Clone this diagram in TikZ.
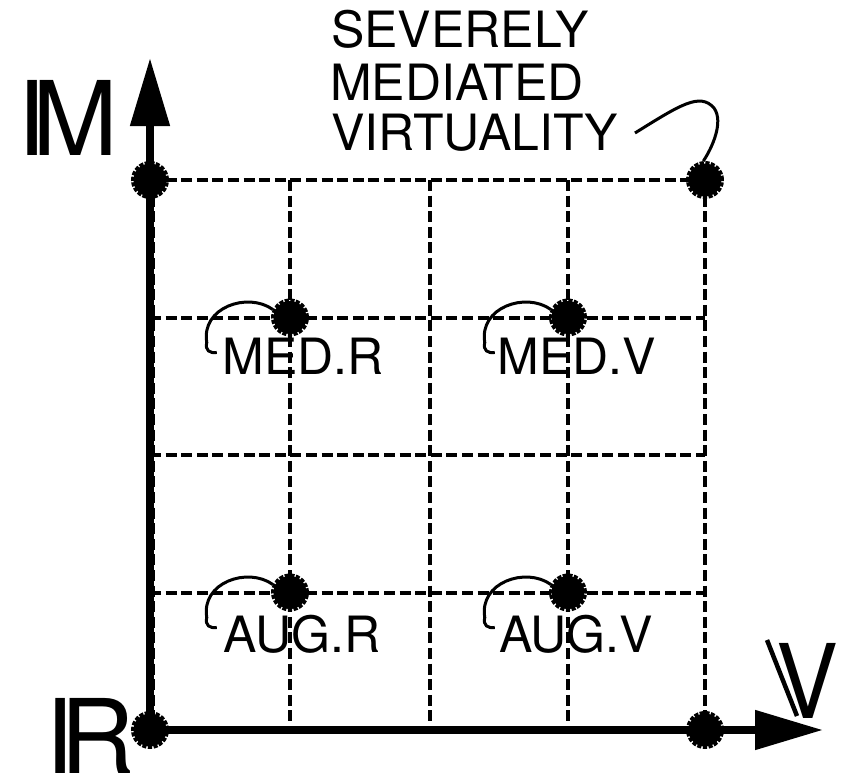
\documentclass[tikz,border=0pt]{standalone}
\usepackage{fontspec}
\setmainfont{TeX Gyre Heros}
\usetikzlibrary{arrows.meta}
\begin{document}
\begin{tikzpicture}[x=1pt,y=-1pt,
  gridline/.style={line width=4pt, dash pattern=on 11pt off 4.6pt},
  axisline/.style={line width=8pt, -{Triangle[length=68pt,width=38pt]}},
  dotpt/.style={circle, fill=black, draw=black, minimum size=33pt, inner sep=0pt, line width=5pt, dash pattern=on 4pt off 1.4pt},
  hookline/.style={line width=3pt},
  lbl/.style={inner sep=0pt, anchor=base, font=\fontsize{50}{50}\selectfont},
  toptext/.style={inner sep=0pt, anchor=base west, font=\fontsize{50}{50}\selectfont},
  bigtext/.style={inner sep=0pt, font=\fontsize{103}{103}\selectfont}]
\useasboundingbox (0,0) rectangle (844,776);
% grid
\foreach \yy in {180,317.5,455,592.5}
  \draw[gridline] (150,\yy) -- (705,\yy);
\foreach \xx in {153,290,430,568,705}
  \draw[gridline] (\xx,180) -- (\xx,730);
% axes
\coordinate (origin) at (150,730);
\coordinate (ytip) at (150,58);
\coordinate (xtip) at (823,730);
\draw[axisline] (origin) -- (ytip);
\draw[axisline] (origin) -- (xtip);
% dots
\node[dotpt] (tl) at (150,180) {};
\node[dotpt] (tr) at (705,180) {};
\node[dotpt] (mr) at (290,317.5) {};
\node[dotpt] (mv) at (568,317.5) {};
\node[dotpt] (ar) at (290,592.5) {};
\node[dotpt] (av) at (568,592.5) {};
\node[dotpt] (bl) at (150,730) {};
\node[dotpt] (br) at (705,730) {};
% hooks
\foreach \d in {mr,mv,ar,av}
  \draw[hookline] (\d.155) .. controls +(-25,-18) and +(-6,-35) .. ++(-66,33)
     .. controls +(-2,8) and +(-7,1) .. ++(10,10);
% labels
\node[lbl] (lmr) at (303,374) {MED.R};
\node[lbl] (lmv) at (577,374) {MED.V};
\node[lbl] (lar) at (302,652) {AUG.R};
\node[lbl] (lav) at (576,652) {AUG.V};
% top text
\node[toptext] (s1) at (331,48) {SEVERELY};
\node[toptext] (s2) at (330,100) {MEDIATED};
\node[toptext] (s3) at (331,150) {VIRTUALITY};
\coordinate (vstart) at (635,133);
\draw[hookline] (vstart) .. controls (680,105) and (700,92) .. (714,108)
   .. controls (724,122) and (712,148) .. (tr.95);
% big axis labels
\node[bigtext, anchor=base west] (lim) at (17,155) {I\kern-13pt M};
\node[bigtext, anchor=base west] (lir) at (45,773) {I\kern-13pt R};
\node[bigtext, anchor=base east, xscale=0.9] (lv) at (839,718) {V};
\coordinate (vs1) at (767,640);
\coordinate (vs2) at (797,716);
\draw[line width=4.5pt] (vs1) -- (vs2);
\end{tikzpicture}
\end{document}
